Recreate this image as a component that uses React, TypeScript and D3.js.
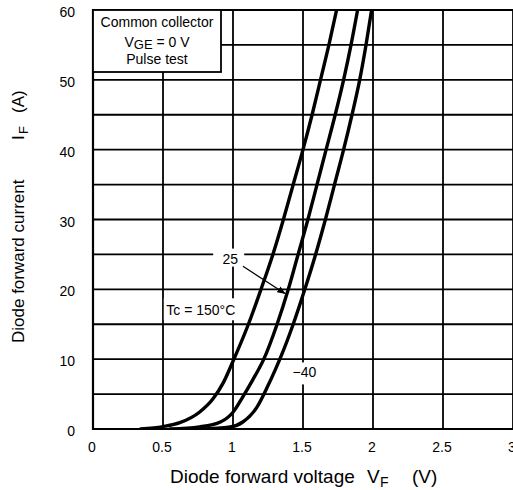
import React from "react";
import * as d3 from "d3";

// ---- data ----
const X_TICKS = [0, 0.5, 1, 1.5, 2, 2.5, 3];
const X_TICK_LABELS = ["0", "0.5", "1", "1.5", "2", "2.5", "3"];
const Y_TICKS = [0, 10, 20, 30, 40, 50, 60];
const Y_TICK_LABELS = ["0", "10", "20", "30", "40", "50", "60"];

const VF_150 = [0.34, 0.5, 0.62, 0.76, 0.86, 0.93, 1.0, 1.11, 1.2, 1.285, 1.36, 1.43, 1.5, 1.565, 1.625, 1.685, 1.74];
const IF_150 = [0, 0.35, 0.9, 2.4, 4.4, 6.6, 9.7, 15, 20, 25, 30, 35, 40, 45, 50, 55, 60];

const VF_25 = [0.55, 0.76, 0.91, 1.0, 1.07, 1.14, 1.22, 1.315, 1.395, 1.465, 1.535, 1.6, 1.665, 1.73, 1.79, 1.843, 1.89];
const IF_25 = [0, 0.3, 1, 2.4, 4.6, 7, 10, 15, 20, 25, 30, 35, 40, 45, 50, 55, 60];

const VF_M40 = [0.76, 0.98, 1.07, 1.17, 1.245, 1.3, 1.345, 1.43, 1.513, 1.59, 1.66, 1.725, 1.79, 1.85, 1.905, 1.95, 1.99];
const IF_M40 = [0, 0.3, 1, 3.1, 6, 8.4, 10.5, 15, 20, 25, 30, 35, 40, 45, 50, 55, 60];

const SERIES = [
  { name: "150", vf: VF_150, iF: IF_150 },
  { name: "25", vf: VF_25, iF: IF_25 },
  { name: "-40", vf: VF_M40, iF: IF_M40 },
];

const W = 513;
const H = 490;
const FONT = "Arial, 'Liberation Sans', Helvetica, sans-serif";

export default function App() {
  const x = d3.scaleLinear().domain([0, 3]).range([93, 513]);
  const y = d3.scaleLinear().domain([0, 60]).range([429, 10]);

  const line = d3
    .line<[number, number]>()
    .x((d) => x(d[0]))
    .y((d) => y(d[1]))
    .curve(d3.curveMonotoneX);

  const vGrid = d3.range(0, 3.001, 0.5);
  const hGrid = d3.range(0, 60.001, 5);

  // annotation anchors in data units
  const lbl25 = { v: 0.98, a: 24.4 };
  const arrowFrom = { v: 1.071, a: 23.3 };
  const arrowTo = { v: 1.371, a: 19.4 };
  const lblTc = { v: 0.77, a: 17.0 };
  const lblM40 = { v: 1.51, a: 8.1 };

  return (
    <svg
      width={W}
      height={H}
      style={{ position: "absolute", left: 0, top: 0, background: "#fff" }}
      fontFamily={FONT}
    >
      <defs>
        <clipPath id="plot">
          <rect x={x(0)} y={y(60)} width={x(3) - x(0)} height={y(0) - y(60)} />
        </clipPath>
        <marker id="arr" viewBox="0 0 10 10" refX="9" refY="5" markerWidth="7" markerHeight="7" orient="auto">
          <path d="M0,1 L10,5 L0,9 z" fill="#000" />
        </marker>
      </defs>
      <rect x={0} y={0} width={W} height={H} fill="#fff" />

      {/* grid */}
      {vGrid.map((v) => (
        <line key={"v" + v} x1={x(v)} x2={x(v)} y1={y(0)} y2={y(60)} stroke="#000" strokeWidth={1.8} />
      ))}
      {hGrid.map((a) => (
        <line key={"h" + a} x1={x(0)} x2={x(3)} y1={y(a)} y2={y(a)} stroke="#000" strokeWidth={1.8} />
      ))}
      <line x1={x(0)} x2={x(0)} y1={y(0) + 1} y2={y(60) - 1} stroke="#000" strokeWidth={2.2} />

      {/* curves */}
      <g clipPath="url(#plot)">
        {SERIES.map((s) => (
          <path
            key={s.name}
            d={line(s.vf.map((v, i) => [v, s.iF[i]] as [number, number])) || ""}
            fill="none"
            stroke="#000"
            strokeWidth={3.4}
            strokeLinejoin="round"
            strokeLinecap="round"
          />
        ))}
      </g>

      {/* y tick labels */}
      {Y_TICKS.map((t, i) => (
        <text key={"yt" + t} x={75} y={y(t) + 7} textAnchor="end" fontSize={14} fill="#000">
          {Y_TICK_LABELS[i]}
        </text>
      ))}
      {/* x tick labels */}
      {X_TICKS.map((t, i) => (
        <text key={"xt" + t} x={x(t) - 1} y={452} textAnchor="middle" fontSize={14} fill="#000">
          {X_TICK_LABELS[i]}
        </text>
      ))}

      {/* annotations */}
      <rect x={x(lbl25.v) - 17} y={y(lbl25.a) - 10} width={31} height={18} fill="#fff" />
      <text x={x(lbl25.v)} y={y(lbl25.a) + 5} textAnchor="middle" fontSize={14}>25</text>
      <line
        x1={x(arrowFrom.v)}
        y1={y(arrowFrom.a)}
        x2={x(arrowTo.v)}
        y2={y(arrowTo.a)}
        stroke="#000"
        strokeWidth={1.2}
        markerEnd="url(#arr)"
      />
      <rect x={x(lblTc.v) - 37} y={y(lblTc.a) - 12} width={76} height={22} fill="#fff" />
      <text x={x(lblTc.v)} y={y(lblTc.a) + 5} textAnchor="middle" fontSize={14}>Tc = 150°C</text>
      <rect x={x(lblM40.v) - 14} y={y(lblM40.a) - 10} width={28} height={22} fill="#fff" />
      <text x={x(lblM40.v)} y={y(lblM40.a) + 5} textAnchor="middle" fontSize={14}>−40</text>

      {/* legend box */}
      <rect x={93} y={10} width={128} height={62} fill="#fff" stroke="#000" strokeWidth={1.8} />
      <text x={157} y={27} textAnchor="middle" fontSize={14}>Common collector</text>
      <text x={157} y={47} textAnchor="middle" fontSize={14}>
        V<tspan fontSize={13} dy={1.5}>GE</tspan>
        <tspan dy={-1.5}> = 0 V</tspan>
      </text>
      <text x={157} y={64} textAnchor="middle" fontSize={14}>Pulse test</text>

      {/* x axis title */}
      <text y={483} fontSize={19} fill="#000">
        <tspan x={170}>Diode forward voltage</tspan>
        <tspan x={367}>V</tspan>
        <tspan x={380} dy={4} fontSize={14}>F</tspan>
        <tspan x={412} dy={-4}>(V)</tspan>
      </text>

      {/* y axis title */}
      <text transform="translate(24,343) rotate(-90)" fontSize={17} fill="#000">
        <tspan x={0} y={0}>Diode forward current</tspan>
        <tspan x={203} y={0}>I</tspan>
        <tspan x={209} y={4} fontSize={13}>F</tspan>
        <tspan x={230} y={0}>(A)</tspan>
      </text>
    </svg>
  );
}
